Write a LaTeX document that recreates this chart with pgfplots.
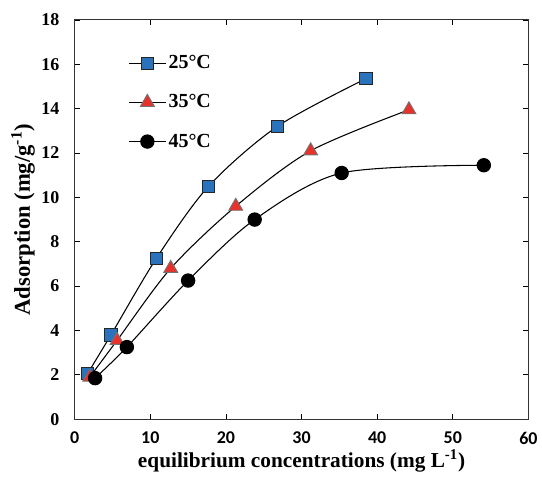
\documentclass[border=0pt]{standalone}
\usepackage{pgfplots}
\pgfplotsset{compat=1.18}
\usepackage{fontspec}
\setmainfont{Liberation Serif}
\newfontfamily\carlito{Carlito}
\definecolor{sqblue}{HTML}{2A72BC}
\definecolor{trired}{HTML}{E8312A}
\begin{document}
\begin{tikzpicture}
\begin{axis}[
  scale only axis, width=341pt, height=300pt,
  xmin=0, xmax=60, ymin=0, ymax=18,
  xtick={0,10,...,60}, ytick={0,2,...,18},
  tick align=inside, major tick length=4pt,
  tick style={black, line width=0.6pt},
  axis line style={line width=0.8pt, black!80},
  xticklabel style={font=\carlito\bfseries\fontsize{13.5}{15}\selectfont, yshift=-6pt},
  yticklabel style={font=\bfseries\fontsize{13.5}{15}\selectfont, xshift=-8pt},
  /pgf/number format/assume math mode=true,
  xlabel={\bfseries equilibrium concentrations (mg L\textsuperscript{-1})},
  ylabel={\bfseries Adsorption (mg/g\textsuperscript{-1})},
  xlabel style={font=\bfseries\fontsize{16}{18}\selectfont, yshift=3pt},
  ylabel style={font=\bfseries\fontsize{17}{19}\selectfont, yshift=-2pt},
  legend style={draw=none, fill=none, at={(0.11,0.925)}, anchor=north west,
    font=\bfseries\fontsize{15}{17}\selectfont, row sep=14pt},
  legend cell align=left,
  legend image code/.code={
    \draw[black, line width=0.8pt] (0cm,0cm) -- (0.95cm,0cm);
    \draw[#1, mark repeat=2, mark phase=2] plot coordinates {(0cm,0cm) (0.475cm,0cm) (0.95cm,0cm)};
  },
]
\addplot[black, line width=0.8pt, smooth, tension=0.5, mark=square*,
  mark size=4.6pt, mark options={fill=sqblue, draw=black!85, line width=0.7pt}]
coordinates {(1.7,2.05) (4.8,3.8) (10.8,7.25) (17.7,10.5) (26.8,13.2) (38.5,15.35)};
\addlegendentry{25°C}
\addplot[black, line width=0.8pt, smooth, tension=0.5, mark=triangle*,
  mark size=6pt, mark options={fill=trired, draw=black!55, line width=0.7pt}]
coordinates {(2.0,1.9) (5.6,3.55) (12.7,6.8) (21.3,9.6) (31.2,12.1) (44.2,13.95)};
\addlegendentry{35°C}
\addplot[black, line width=0.8pt, smooth, tension=0.5, mark=*,
  mark size=5pt, mark options={fill=black}]
coordinates {(2.7,1.85) (6.9,3.25) (15.0,6.25) (23.8,9.0) (35.3,11.1) (54.1,11.45)};
\addlegendentry{45°C}
\end{axis}
\path (0,315pt);
\path (current bounding box.south west) ++(-5pt,0);
\end{tikzpicture}
\end{document}
